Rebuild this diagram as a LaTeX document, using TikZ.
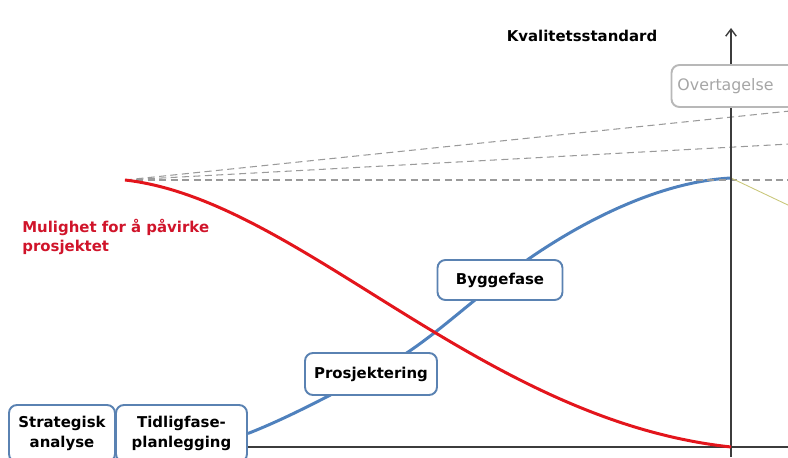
\documentclass[tikz,border=0pt]{standalone}
\usepackage{fontspec}
\setmainfont{DejaVu Sans}
\usepackage{tikz}
\usetikzlibrary{arrows.meta,positioning,calc,backgrounds}
\definecolor{axisgray}{HTML}{3C3C3C}
\definecolor{dashgray}{HTML}{9A9A9A}
\definecolor{phaseblue}{HTML}{4F81BD}
\definecolor{boxblue}{HTML}{5A82B2}
\definecolor{impactred}{HTML}{E3151C}
\definecolor{labelred}{HTML}{D0142A}
\definecolor{softgray}{HTML}{A6A6A6}
\definecolor{olive}{HTML}{C9C77A}
\tikzset{
  phasebox/.style={draw=boxblue,fill=white,line width=1.1pt,rounded corners=4.5pt,
                   align=center,inner sep=2pt,
                   font=\fontsize{8.5}{11.5}\selectfont\bfseries},
  greybox/.style={draw=softgray!80,fill=white,line width=1.1pt,rounded corners=4.5pt,
                  align=center,inner sep=2pt,text=softgray,
                  font=\fontsize{9}{11}\selectfont},
  axisline/.style={axisgray,line width=0.8pt},
  fanline/.style={dashgray,dash pattern=on 4pt off 2.5pt,line width=0.6pt},
  impactcurve/.style={impactred,line width=1.7pt},
  phasecurve/.style={phaseblue,line width=1.7pt}
}

\begin{document}
\begin{tikzpicture}[x=0.02cm,y=0.02cm]
  \useasboundingbox (0,0) rectangle (788,457);
  \clip (0,0) rectangle (788,457);

  % axes and fixed points
  \coordinate (origin) at (731,10);
  \coordinate (ytop) at (731,429);
  \coordinate (xend) at (790,10);
  \coordinate (start) at (125,277);
  \coordinate (peak) at (731,279);

  % fan of quality levels
  \draw[fanline] (start) -- (790,277);
  \draw[fanline] (start) -- (790,313);
  \draw[fanline] (start) -- (790,346);
  \draw[olive,line width=0.5pt] (peak) -- (790,251);

  \draw[axisline,-{Straight Barb[length=4pt,width=6pt]}] (731,0) -- (ytop);

  % phases
  \node[phasebox,minimum width=2.12cm,minimum height=1.14cm] (strat) at (62,23.5)
    {Strategisk\\analyse};
  \node[phasebox,minimum width=2.62cm,minimum height=1.14cm] (tidlig) at (181.5,23.5)
    {Tidligfase-\\planlegging};
  \draw[axisline] (tidlig.east |- origin) -- (xend);

  \node[phasebox,minimum width=2.64cm,minimum height=0.84cm] (prosj) at (371,83)
    {Prosjektering};
  \node[phasebox,minimum width=2.5cm,minimum height=0.8cm] (bygg) at (500,177)
    {Byggefase};
  \node[greybox,minimum width=2.66cm,minimum height=0.84cm] (overtag) at (738,371)
    {Overtagelse\hspace*{0.5cm}};

  % phase curve, behind the boxes
  \begin{scope}[on background layer]
    \draw[phasecurve] (tidlig.east) .. controls (290,40) and (330,62) .. (prosj.center)
      .. controls (420,108) and (450,138) .. (bygg.center)
      .. controls (560,224) and (650,275) .. (peak);
  \end{scope}

  % ability to influence
  \draw[impactcurve] (start) .. controls (300,257) and (480,37) .. (origin);

  \node[font=\fontsize{8.5}{11}\selectfont\bfseries,text=labelred,align=left,anchor=north west,
        inner sep=0pt] (mulighet) at (22,238) {Mulighet for å påvirke\\prosjektet};
  \node[font=\fontsize{8.5}{11}\selectfont\bfseries,anchor=center,inner sep=0pt]
    (kvalitet) at (582,421) {Kvalitetsstandard};
\end{tikzpicture}
\end{document}
